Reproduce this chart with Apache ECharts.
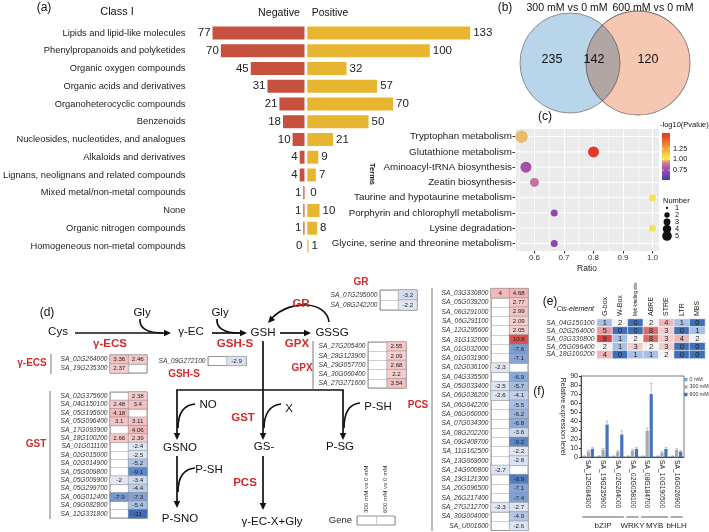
<!DOCTYPE html>
<html><head><meta charset="utf-8">
<script src="https://cdn.jsdelivr.net/npm/echarts@6/dist/echarts.min.js"></script>
<style>html,body{margin:0;padding:0;background:#fff}#c{width:709px;height:532px}</style>
</head><body><div id="c"></div>
<script>
// ---------------- (a) metabolite classes ----------------
const classCategories = ['Lipids and lipid-like molecules','Phenylpropanoids and polyketides','Organic oxygen compounds','Organic acids and derivatives','Organoheterocyclic compounds','Benzenoids','Nucleosides, nucleotides, and analogues','Alkaloids and derivatives','Lignans, neolignans and related compounds','Mixed metal/non-metal compounds','None','Organic nitrogen compounds','Homogeneous non-metal compounds'];
const negativeCounts = [77,70,45,31,21,18,10,4,4,1,1,1,0];
const positiveCounts = [133,100,32,57,70,50,21,9,7,0,10,8,1];
// ---------------- (b) Venn ----------------
const vennSets = ['300 mM vs 0 mM','600 mM vs 0 mM'];
const vennCounts = [235,142,120];
// ---------------- (c) KEGG enrichment ----------------
const keggTerms = ['Tryptophan metabolism','Glutathione metabolism','Aminoacyl-tRNA biosynthesis','Zeatin biosynthesis','Taurine and hypotaurine metabolism','Porphyrin and chlorophyll metabolism','Lysine degradation','Glycine, serine and threonine metabolism'];
const keggRatio = [0.556,0.8,0.571,0.6,1.0,0.667,1.0,0.667];
const keggNumber = [5,4,4,3,2,2,2,2];
const keggLogP = [0.98,1.6,0.76,0.88,1.03,0.7,1.03,0.7];
const pTicks = ['1.25','1.00','0.75'];
const numberTicks = [1,2,3,4,5];
// ---------------- (d) gene tables (300 mM vs 0 mM, 600 mM vs 0 mM) ----------------
const contrastCols = ['300 mM vs 0 mM','600 mM vs 0 mM'];
const gammaEcsGenes = ['SA_02G264000','SA_19G235300'];
const gammaEcs300 = [3.36,2.37];
const gammaEcs600 = [2.46,null];
const gshsGenes = ['SA_09G272100'];
const gshs300 = [null];
const gshs600 = [-2.9];
const grGenes = ['SA_07G295000','SA_08G242200'];
const gr300 = [null,null];
const gr600 = [-3.2,-2.2];
const gpxGenes = ['SA_27G205400','SA_28G123900','SA_29G057700','SA_30G060400','SA_27G271600'];
const gpx300 = [null,null,null,null,null];
const gpx600 = [2.55,2.09,2.68,2.2,3.54];
const gstGenes = ['SA_02G375600','SA_04G150100','SA_05G195600','SA_05G096400','SA_17G093900','SA_18G100200','SA_01G011100','SA_02G015000','SA_02G014900','SA_05G009800','SA_05G009900','SA_05G299700','SA_06G012400','SA_09G082800','SA_12G331800'];
const gst300 = [null,2.48,4.18,3.1,null,2.66,null,null,null,null,-2,null,-7.9,null,null];
const gst600 = [2.38,3.4,null,3.11,4.06,2.39,-2.4,-2.5,-5.2,-9.1,-3.4,-4.4,-7.3,-5.4,-11];
const pcsGenes = ['SA_03G330800','SA_05G039200','SA_06G291000','SA_06G291100','SA_12G295600','SA_31G132000','SA_01G032000','SA_01G031900','SA_02G036100','SA_04G335500','SA_05G033400','SA_06G036200','SA_06G042200','SA_06G060000','SA_07G034300','SA_08G202200','SA_09G408700','SA_11G162500','SA_13G069000','SA_14G000800','SA_19G121300','SA_20G096500','SA_26G217400','SA_27G212700','SA_30G004000','SA_U001600'];
const pcs300 = [4,null,null,null,null,null,null,null,-2.3,null,-2.5,-2.6,null,null,null,null,null,null,null,-2.7,null,null,null,-2.3,null,null];
const pcs600 = [4.68,2.77,2.99,2.09,2.05,10.8,-7.6,-7.1,null,-6.9,-5.7,-4.1,-5.5,-6.2,-6.8,-3.6,-9.2,-2.2,-2.8,null,-9.9,-7.1,-7.4,-2.7,-4.9,-2.6];
// ---------------- (e) cis-elements ----------------
const cisElements = ['G-box','W-Box','Myb-binding site','ABRE','STRE','LTR','MBS'];
const cisGenes = ['SA_04G150100','SA_02G264000','SA_03G330800','SA_05G096400','SA_18G100200'];
const cisCounts = [[1,2,0,2,4,1,0],[5,0,0,8,3,0,1],[9,1,2,8,3,4,2],[2,1,3,2,3,0,0],[4,0,1,1,2,0,0]];
// ---------------- (f) qRT-PCR ----------------
const tfGenes = ['SA_12G084300','SA_19G235900','SA_02G264000','SA_02G058100','SA_08G184700','SA_10G190500','SA_16G026900'];
const treatments = ['0 mM','300 mM','600 mM'];
const expr0 = [1,1,1,1,1,1,1];
const expr300 = [6,8,6,7,29,5,8];
const expr600 = [9,36,25,9,70,9,6];
const err0 = [0.3,0.3,0.3,0.3,0.3,0.3,0.3];
const err300 = [1.2,1.5,1,1.2,3,1,1.3];
const err600 = [1.5,4,4,1.5,12,1.5,1];
const tfFamilies = ['bZIP','WRKY','MYB','bHLH'];
const tfFamilySpans = [[0,2],[3,3],[4,5],[6,6]];

// ---------------- styling ----------------
const FONT = 'Liberation Sans, Arial, Helvetica, sans-serif';
const RED = '#d22b2b';
const tableColors = ['#3d6db8','#6d92cc','#a9bfe3','#dbe4f3','#f8eeee','#f5c6c6','#efa9a9','#e77c7c','#dc4a4a'];
const cisColors = ['#3f6fb8','#a9bfe4','#f4f4f4','#f3cccc','#efb6b6','#e99c9c','#e58a8a','#e27a7a','#df6a6a','#d94545'];
const pvalColors = ['#4240a6','#6a46ac','#9448ae','#b65aa6','#d47e98','#f2e64e','#f5cf42','#f5ac38','#f28c32','#ee6c2e','#ea4c2a','#e43228'];
const pMin = 0.52, pMax = 1.62;
const numberSizes = [0,3,7,9,11,12.5];

const grids = [], xAxes = [], yAxes = [], series = [];

// ----- (a)
grids.push({left:206.5, top:24.1, width:98, height:230.75});
grids.push({left:307.3, top:24.1, width:171.5, height:230.75});
xAxes.push({gridIndex:0, type:'value', min:0, max:80, inverse:true, show:false});
yAxes.push({gridIndex:0, type:'category', data:classCategories, inverse:true, axisLine:{show:false}, axisTick:{show:false}, axisLabel:{interval:0, fontSize:9.3, color:'#222', margin:23.5}});
xAxes.push({gridIndex:1, type:'value', min:0, max:140, show:false});
yAxes.push({gridIndex:1, type:'category', data:classCategories, inverse:true, show:false});
series.push({type:'bar', name:'Negative', xAxisIndex:0, yAxisIndex:0, data:negativeCounts, barWidth:13, itemStyle:{color:'#c8503f'}, label:{show:true, position:'left', distance:2, fontSize:11.5, color:'#222'}, silent:true});
series.push({type:'bar', name:'Positive', xAxisIndex:1, yAxisIndex:1, data:positiveCounts, barWidth:13, itemStyle:{color:'#e8b530'}, label:{show:true, position:'right', distance:3, fontSize:11.5, color:'#222'}, silent:true});

// ----- (c)
grids.push({left:515, top:129, width:144, height:122, show:true, backgroundColor:'#ebebeb', borderWidth:0, borderColor:'transparent'});
xAxes.push({gridIndex:2, type:'value', min:0.534, max:1.022, splitNumber:5,
  axisLine:{show:false}, axisTick:{show:true, length:2.5, lineStyle:{color:'#333'}},
  axisLabel:{fontSize:8, color:'#333', margin:3, showMinLabel:false, showMaxLabel:false,
    formatter:v => Math.abs(v*10 - Math.round(v*10)) < 1e-6 ? v.toFixed(1) : ''},
  splitLine:{show:true, lineStyle:{color:'#fff', width:1}},
  minorTick:{show:false, splitNumber:2}, minorSplitLine:{show:true, lineStyle:{color:'#fff', width:0.5}},
  name:'Ratio', nameLocation:'middle', nameGap:13, nameTextStyle:{fontSize:8.5, color:'#222'}});
yAxes.push({gridIndex:2, type:'category', data:keggTerms, inverse:true, axisLine:{show:false},
  axisTick:{show:true, length:2.5, alignWithLabel:true, lineStyle:{color:'#333'}},
  axisLabel:{interval:0, fontSize:9.8, color:'#222', margin:3}, splitLine:{show:false}});
series.push({type:'custom', xAxisIndex:2, yAxisIndex:2, z:1, silent:true,
  data:keggTerms.map((t,i)=>[0.6,i]),
  renderItem:(params, api) => {
    const cs = params.coordSys; const y = api.coord([0.6, api.value(1)])[1];
    return {type:'line', shape:{x1:cs.x, y1:y, x2:cs.x+cs.width, y2:y}, style:{stroke:'#fff', lineWidth:1}};
  }});
series.push({type:'scatter', xAxisIndex:2, yAxisIndex:2, z:3, silent:true,
  data:keggTerms.map((t,i)=>[keggRatio[i], t, keggNumber[i], keggLogP[i]]),
  symbolSize:v => numberSizes[v[2]], itemStyle:{opacity:1}});
const scatterIndex = series.length - 1;

// ----- (d) tables
const tableGenes = [gammaEcsGenes, gshsGenes, grGenes, gpxGenes, gstGenes, pcsGenes];
const table300 = [gammaEcs300, gshs300, gr300, gpx300, gst300, pcs300];
const table600 = [gammaEcs600, gshs600, gr600, gpx600, gst600, pcs600];
const tableBoxes = [[110,355,37,18],[208,356.5,38,9],[380,290,37,20],[368,342,38,46],[110,392,37,126],[491,288.5,37,242]];
const tableSeries = [];
tableGenes.forEach((genes, t) => {
  const g = grids.length; const b = tableBoxes[t];
  grids.push({left:b[0], top:b[1], width:b[2], height:b[3], show:true, backgroundColor:'#fff', borderColor:'#666', borderWidth:0.7});
  xAxes.push({gridIndex:g, type:'category', data:contrastCols, axisLine:{show:false}, axisTick:{show:false}, axisLabel:{show:false}, splitLine:{show:true, interval:0, lineStyle:{color:'#9a9a9a', width:0.5}}});
  yAxes.push({gridIndex:g, type:'category', data:genes, inverse:true, axisLine:{show:false}, axisTick:{show:false}, axisLabel:{interval:0, fontSize:6.6, fontStyle:'italic', color:'#333', margin:2.5}, splitLine:{show:true, interval:0, lineStyle:{color:'#9a9a9a', width:0.5}}});
  const data = [];
  genes.forEach((gn, r) => {
    if (table300[t][r] !== null) data.push([0, r, table300[t][r]]);
    if (table600[t][r] !== null) data.push([1, r, table600[t][r]]);
  });
  tableSeries.push(series.length);
  series.push({type:'heatmap', xAxisIndex:g, yAxisIndex:g, data:data, silent:true,
    itemStyle:{borderColor:'#8a8a8a', borderWidth:0.5},
    label:{show:true, fontSize:6.2, color:'#222', formatter:p => String(p.value[2])}});
});
// legend table "Gene"
{
  const g = grids.length;
  grids.push({left:357, top:516, width:38, height:9, show:true, backgroundColor:'#fff', borderColor:'#666', borderWidth:0.7});
  xAxes.push({gridIndex:g, type:'category', position:'top', data:contrastCols, axisLine:{show:false}, axisTick:{show:false}, axisLabel:{interval:0, rotate:-90, fontSize:6.2, color:'#333', margin:3}, splitLine:{show:true, interval:0, lineStyle:{color:'#9a9a9a', width:0.5}}});
  yAxes.push({gridIndex:g, type:'category', data:['Gene'], axisLine:{show:false}, axisTick:{show:false}, axisLabel:{fontSize:9.5, color:'#222', margin:5}});
}

// ----- (e)
{
  const g = grids.length;
  grids.push({left:597, top:319, width:108, height:39.5});
  xAxes.push({gridIndex:g, type:'category', position:'top', data:cisElements, axisLine:{show:false}, axisTick:{show:false},
    axisLabel:{interval:0, rotate:-90, fontSize:7, color:'#222', margin:3,
      formatter:v => v === 'Myb-binding site' ? '{s|' + v + '}' : v, rich:{s:{fontSize:4.6, color:'#222'}}}});
  yAxes.push({gridIndex:g, type:'category', data:cisGenes, inverse:true, axisLine:{show:false}, axisTick:{show:false}, axisLabel:{interval:0, fontSize:6.8, fontStyle:'italic', color:'#333', margin:2.5}});
  const data = [];
  cisGenes.forEach((gn, r) => cisElements.forEach((el, c) => data.push([c, r, cisCounts[r][c]])));
  series.push({type:'heatmap', xAxisIndex:g, yAxisIndex:g, data:data, silent:true,
    itemStyle:{borderColor:'#ffffff', borderWidth:0.6},
    label:{show:true, fontSize:7.5, color:'#222', formatter:p => String(p.value[2])}});
}
const cisIndex = series.length - 1;

// ----- (f)
const fGrid = grids.length;
grids.push({left:581, top:376, width:103, height:81, show:true, borderColor:'#444', borderWidth:0.7, backgroundColor:'transparent'});
xAxes.push({gridIndex:fGrid, type:'category', data:tfGenes, axisLine:{lineStyle:{color:'#333', width:0.8}}, axisTick:{show:false},
  axisLabel:{interval:0, rotate:-90, fontSize:6.8, color:'#222', margin:3}});
yAxes.push({gridIndex:fGrid, type:'value', min:0, max:90, interval:10, axisLine:{show:true, lineStyle:{color:'#333', width:0.8}},
  axisTick:{show:true, length:2, lineStyle:{color:'#333'}}, splitLine:{show:false},
  axisLabel:{fontSize:7, color:'#222', margin:3},
  name:'Relative expression level', nameLocation:'middle', nameRotate:-90, nameGap:15, nameTextStyle:{fontSize:7, color:'#222'}});
const exprSets = [expr0, expr300, expr600];
const errSets = [err0, err300, err600];
const barColors = ['#6ea6d8','#a8a8a8','#4472c4'];
treatments.forEach((tr, s) => {
  series.push({type:'bar', name:tr, xAxisIndex:fGrid, yAxisIndex:fGrid, data:exprSets[s], barWidth:3.2, barGap:'25%', itemStyle:{color:barColors[s]}, silent:true});
});
const errData = [];
treatments.forEach((tr, s) => tfGenes.forEach((gn, i) => errData.push([i, exprSets[s][i], errSets[s][i], s])));
series.push({type:'custom', xAxisIndex:fGrid, yAxisIndex:fGrid, z:5, silent:true, data:errData,
  renderItem:(params, api) => {
    const i = api.value(0), v = api.value(1), e = api.value(2), s = api.value(3);
    const off = (s - 1) * 4;
    const base = api.coord([i, v]), top = api.coord([i, v + e]);
    const x = base[0] + off;
    return {type:'group', children:[
      {type:'line', shape:{x1:x, y1:base[1], x2:x, y2:top[1]}, style:{stroke:'#9a9a9a', lineWidth:0.6}},
      {type:'line', shape:{x1:x-1.3, y1:top[1], x2:x+1.3, y2:top[1]}, style:{stroke:'#9a9a9a', lineWidth:0.6}}
    ]};
  }});
series.push({type:'custom', xAxisIndex:fGrid, yAxisIndex:fGrid, z:5, silent:true, data:tfFamilySpans,
  renderItem:(params, api) => {
    const a = api.coord([api.value(0), 0]), b = api.coord([api.value(1), 0]);
    const band = api.size([1, 0])[0];
    const y = a[1] + 60;
    return {type:'group', children:[
      {type:'line', shape:{x1:a[0]-band*0.42, y1:y, x2:b[0]+band*0.42, y2:y}, style:{stroke:'#333', lineWidth:0.8}},
      {type:'text', x:(a[0]+b[0])/2, y:y+9, style:{text:tfFamilies[params.dataIndex], font:'8px ' + FONT, fill:'#222', align:'center', verticalAlign:'middle', textAlign:'center', textVerticalAlign:'middle'}}
    ]};
  }});

// ---------------- graphics ----------------
const G = [];
function T(x, y, text, size, opt) {
  opt = opt || {};
  const font = (opt.italic ? 'italic ' : '') + (opt.bold ? 'bold ' : '') + size + 'px ' + FONT;
  const al = opt.align || 'center';
  G.push({type:'text', x:x, y:y, rotation:opt.rot || 0, z:20, silent:true,
    style:{text:text, font:font, fill:opt.color || '#111', align:al, textAlign:al, verticalAlign:'middle', textVerticalAlign:'middle'}});
}
function L(x1, y1, x2, y2, w, c) {
  G.push({type:'line', z:20, silent:true, shape:{x1:x1, y1:y1, x2:x2, y2:y2}, style:{stroke:c || '#111', lineWidth:w || 1.7}});
}
function head(x, y, dx, dy) {
  const n = Math.hypot(dx, dy); dx /= n; dy /= n;
  const Lh = 7, W = 3.3; const bx = x - dx*Lh, by = y - dy*Lh;
  G.push({type:'polygon', z:21, silent:true, shape:{points:[[x,y],[bx-dy*W, by+dx*W],[bx+dy*W, by-dx*W]]}, style:{fill:'#111'}});
}
function arrow(x1, y1, x2, y2) {
  const n = Math.hypot(x2-x1, y2-y1);
  L(x1, y1, x2 - (x2-x1)/n*6, y2 - (y2-y1)/n*6);
  head(x2, y2, x2-x1, y2-y1);
}
function curve(x1, y1, c1x, c1y, c2x, c2y, x2, y2) {
  G.push({type:'bezierCurve', z:20, silent:true, shape:{x1:x1, y1:y1, x2:x2, y2:y2, cpx1:c1x, cpy1:c1y, cpx2:c2x, cpy2:c2y}, style:{stroke:'#111', lineWidth:1.7, fill:'none'}});
}

// panel letters
T(44, 8, '(a)', 12); T(505, 8, '(b)', 12); T(545, 117, '(c)', 12); T(47, 313, '(d)', 12); T(550, 302, '(e)', 12); T(539, 392, '(f)', 12);
// (a) headers
T(117, 12, 'Class I', 11); T(279, 13, 'Negative', 10.6); T(330, 13, 'Positive', 10.4);
// (b) Venn
G.push({type:'circle', z:5, silent:true, shape:{cx:570, cy:63, r:50}, style:{fill:'#b9d5ea', stroke:'#777', lineWidth:0.8}});
G.push({type:'circle', z:6, silent:true, shape:{cx:638, cy:63, r:52}, style:{fill:'#f6c7b3', stroke:'#777', lineWidth:0.8, blend:'multiply'}});
T(567, 8, vennSets[0], 10.6); T(653, 8, vennSets[1], 10.6);
T(552, 60, String(vennCounts[0]), 12.5); T(594, 60, String(vennCounts[1]), 12.5); T(648, 60, String(vennCounts[2]), 12.5);
// (c) legends
T(372, 174, 'Terms', 7.5, {bold:true, rot:-Math.PI/2});
T(660, 125, '-log10(Pvalue)', 7.5, {align:'left'});
G.push({type:'rect', z:20, silent:true, shape:{x:662, y:133, width:8, height:47},
  style:{fill:new echarts.graphic.LinearGradient(0, 1, 0, 0, pvalColors.map((c, i) => ({offset:i/(pvalColors.length-1), color:c})))}});
pTicks.forEach(t => {
  const y = 180 - (parseFloat(t) - pMin) / (pMax - pMin) * 47;
  T(673, y, t, 7.3, {align:'left'});
  L(662, y, 664, y, 0.6, '#fff'); L(668, y, 670, y, 0.6, '#fff');
});
T(663, 201, 'Number', 7.5, {align:'left'});
numberTicks.forEach((n, i) => {
  const y = 208 + i*7;
  G.push({type:'circle', z:20, silent:true, shape:{cx:667, cy:y, r:numberSizes[n]/2.6}, style:{fill:'#111'}});
  T(675, y, String(n), 7.3, {align:'left'});
});
// (d) pathway
T(58, 332, 'Cys', 11.5); T(191, 332, 'γ-EC', 11.5); T(263, 333, 'GSH', 11.5); T(332, 333, 'GSSG', 11.5);
T(142, 313, 'Gly', 11.5); T(220, 313, 'Gly', 11.5);
T(180, 448, 'GSNO', 11.5); T(264, 447, 'GS-', 11.5); T(340, 447, 'P-SG', 11.5);
T(180, 519, 'P-SNO', 11.5); T(272, 522, 'γ-EC-X+Gly', 11.5);
T(208, 405, 'NO', 11.5); T(289, 409, 'X', 11.5); T(378, 407, 'P-SH', 11.5); T(209, 470, 'P-SH', 11.5);
arrow(75, 333, 171, 333); arrow(212, 333, 247, 333); arrow(280, 333, 311, 333);
curve(140, 319, 139, 328, 147, 333, 163, 333);
curve(217, 319, 216, 328, 224, 333, 240, 333);
curve(329, 322, 327, 302, 292, 298, 272, 318); head(268, 323, -0.67, 0.74);
arrow(263, 341, 263, 440);
L(176.2, 390, 343.8, 390);
arrow(177, 390, 177, 440); arrow(343, 390, 343, 440);
arrow(177, 456, 177, 508); arrow(263, 456, 263, 510);
curve(195, 404, 183, 405, 178, 414, 178, 428);
curve(281, 404, 270, 405, 264, 414, 264, 428);
curve(360, 403, 349, 404, 344, 413, 344, 428);
curve(195, 468, 183, 469, 178, 478, 178, 492);
// red enzyme labels
T(110, 344, 'γ-ECS', 11.5, {bold:true, color:RED}); T(235, 344, 'GSH-S', 11.5, {bold:true, color:RED});
T(297, 344, 'GPX', 11.5, {bold:true, color:RED}); T(301, 304, 'GR', 11.5, {bold:true, color:RED});
T(243, 418, 'GST', 11.5, {bold:true, color:RED}); T(245, 483, 'PCS', 11.5, {bold:true, color:RED});
// table labels + brackets
T(32, 363, 'γ-ECS', 10, {bold:true, color:RED}); L(51, 354, 51, 374, 0.8, '#555');
T(184, 374, 'GSH-S', 10, {bold:true, color:RED});
T(361, 282, 'GR', 10, {bold:true, color:RED});
T(302, 368, 'GPX', 10, {bold:true, color:RED}); L(313, 341, 313, 389, 0.8, '#555');
T(36, 444, 'GST', 10, {bold:true, color:RED}); L(50, 391, 50, 519, 0.8, '#555');
T(418, 405, 'PCS', 10, {bold:true, color:RED}); L(432, 288, 432, 531, 0.8, '#555');
// (e) title
T(594, 309, 'Cis-element', 7, {italic:true, align:'right'});

const option = {
  animation:false,
  backgroundColor:'#ffffff',
  textStyle:{fontFamily:FONT},
  grid:grids, xAxis:xAxes, yAxis:yAxes,
  visualMap:[
    {type:'continuous', show:false, seriesIndex:tableSeries, dimension:2, min:-11, max:11, inRange:{color:tableColors}},
    {type:'continuous', show:false, seriesIndex:cisIndex, dimension:2, min:0, max:9, inRange:{color:cisColors}},
    {type:'continuous', show:false, seriesIndex:scatterIndex, dimension:3, min:pMin, max:pMax, inRange:{color:pvalColors}}
  ],
  legend:{data:treatments, orient:'vertical', left:684, top:377, itemWidth:3.5, itemHeight:3.5, itemGap:2.5, padding:0, icon:'rect',
    textStyle:{fontSize:5.3, color:'#333', padding:[0,0,0,-3]}},
  series:series,
  graphic:{elements:G}
};
const chart = echarts.init(document.getElementById('c'), null, {renderer:'canvas'});
chart.setOption(option);
</script></body></html>
